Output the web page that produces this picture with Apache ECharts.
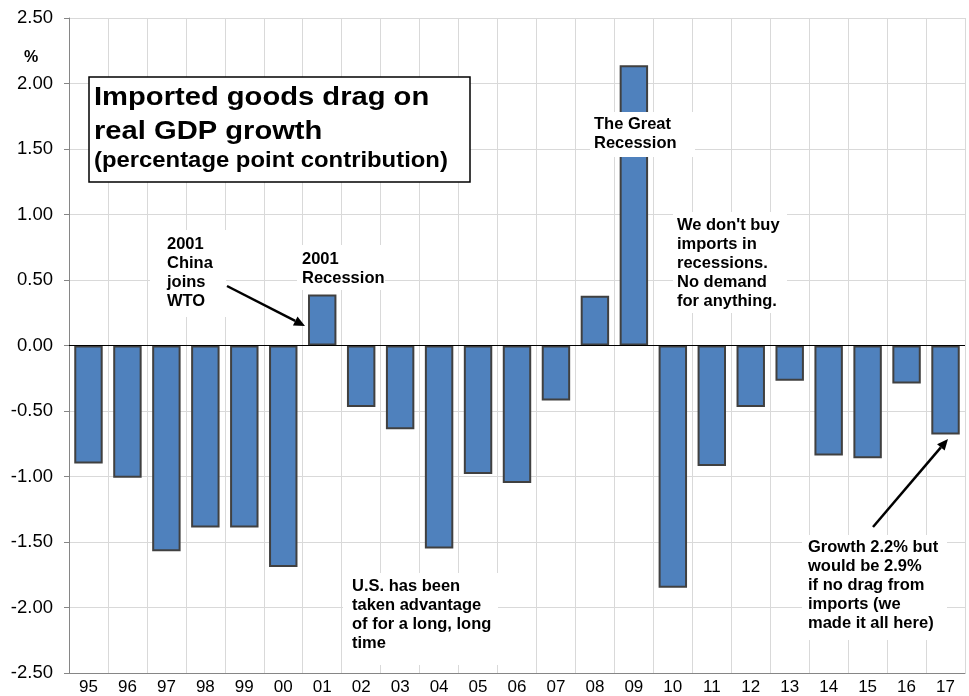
<!DOCTYPE html>
<html>
<head>
<meta charset="utf-8">
<script src="https://cdn.jsdelivr.net/npm/echarts@6/dist/echarts.min.js"></script>
<style>
  html, body { margin: 0; padding: 0; background: #fff; }
  #chart { width: 969px; height: 696px; }
</style>
</head>
<body>
<div id="chart"></div>
<script>
const years = ['95', '96', '97', '98', '99', '00', '01', '02', '03', '04', '05', '06',
  '07', '08', '09', '10', '11', '12', '13', '14', '15', '16', '17'];
const contribution = [-0.90, -1.01, -1.57, -1.39, -1.39, -1.69, 0.39, -0.47, -0.64, -1.55, -0.98, -1.05,
  -0.42, 0.38, 2.14, -1.85, -0.92, -0.47, -0.27, -0.84, -0.86, -0.29, -0.68];
const yMin = -2.5;
const yMax = 2.5;
const yStep = 0.5;

const titleLines = ['Imported goods drag on', 'real GDP growth', '(percentage point contribution)'];

// notes: text, text left/top, white box behind it
const notes = [
  { text: '2001\nChina\njoins\nWTO', x: 167, y: 235, box: [150, 230, 76, 87] },
  { text: '2001\nRecession', x: 302, y: 250, box: [297, 245, 88, 45] },
  { text: 'The Great\nRecession', x: 594, y: 115, box: [590, 112, 105, 45] },
  { text: "We don't buy\nimports in\nrecessions.\nNo demand\nfor anything.", x: 677, y: 216, box: [673, 212, 114, 101] },
  { text: 'U.S. has been\ntaken advantage\nof for a long, long\ntime', x: 352, y: 577, box: [343, 573, 155, 92] },
  { text: 'Growth 2.2% but\nwould be 2.9%\nif no drag from\nimports (we\nmade it all here)', x: 808, y: 538, box: [802, 535, 145, 105] }
];

const arrows = [
  [227, 286, 305, 326],
  [873, 527, 948, 439]
];

const font = 'Arial, "Liberation Sans", sans-serif';

function arrow(x1, y1, x2, y2) {
  const dx = x2 - x1, dy = y2 - y1;
  const len = Math.sqrt(dx * dx + dy * dy);
  const ux = dx / len, uy = dy / len;
  const hl = 11, hw = 5;
  const bx = x2 - ux * hl, by = y2 - uy * hl;
  return [
    { type: 'line', z: 100, shape: { x1: x1, y1: y1, x2: bx, y2: by }, style: { stroke: '#000', lineWidth: 2.5 } },
    { type: 'polygon', z: 100, shape: { points: [[x2, y2], [bx - uy * hw, by + ux * hw], [bx + uy * hw, by - ux * hw]] }, style: { fill: '#000' } }
  ];
}

const graphics = [];

// title box
graphics.push({ type: 'rect', z: 100, shape: { x: 89, y: 77, width: 381, height: 105 }, style: { fill: '#fff', stroke: '#000', lineWidth: 1.5 } });
const titleY = [98, 132, 161];
const titleSize = [26.5, 26.5, 21.7];
titleLines.forEach(function (t, i) {
  graphics.push({
    type: 'text', z: 101, x: 94, y: titleY[i], scaleX: 1.1,
    style: { text: t, fontSize: titleSize[i], fontWeight: 'bold', fontFamily: font, fill: '#000', verticalAlign: 'middle', textVerticalAlign: 'middle' }
  });
});

graphics.push({
  type: 'text', z: 101, x: 31, y: 58,
  style: { text: '%', fontSize: 16, fontWeight: 'bold', fontFamily: font, fill: '#000', align: 'center', textAlign: 'center', verticalAlign: 'middle', textVerticalAlign: 'middle' }
});

notes.forEach(function (n) {
  graphics.push({ type: 'rect', z: 100, shape: { x: n.box[0], y: n.box[1], width: n.box[2], height: n.box[3] }, style: { fill: '#fff' } });
  graphics.push({
    type: 'text', z: 101, x: n.x, y: n.y,
    style: { text: n.text, fontSize: 16.5, fontWeight: 'bold', fontFamily: font, fill: '#000', lineHeight: 19, verticalAlign: 'top', textVerticalAlign: 'top' }
  });
});

arrows.forEach(function (a) {
  arrow(a[0], a[1], a[2], a[3]).forEach(function (g) { graphics.push(g); });
});

const chart = echarts.init(document.getElementById('chart'));
chart.setOption({
  animation: false,
  backgroundColor: '#fff',
  grid: { left: 69, right: 4, top: 18, bottom: 22, containLabel: false },
  xAxis: {
    type: 'category',
    data: years,
    boundaryGap: true,
    axisLine: { onZero: false, lineStyle: { color: '#868686', width: 1 } },
    axisTick: { show: false },
    axisLabel: { color: '#000', fontSize: 17, fontFamily: font, margin: 6, interval: 0 },
    splitLine: { show: true, interval: 0, lineStyle: { color: '#d9d9d9', width: 1 } }
  },
  yAxis: {
    type: 'value',
    min: yMin,
    max: yMax,
    interval: yStep,
    axisLine: { show: true, lineStyle: { color: '#868686', width: 1 } },
    axisTick: { show: true, length: 5, lineStyle: { color: '#868686' } },
    axisLabel: { color: '#000', fontSize: 18.5, fontFamily: font, margin: 16, formatter: function (v) { return v.toFixed(2); } },
    splitLine: { show: true, lineStyle: { color: '#d9d9d9', width: 1 } }
  },
  series: [{
    type: 'bar',
    data: contribution,
    barCategoryGap: '27%',
    itemStyle: { color: '#4F81BD', borderColor: '#404040', borderWidth: 2 },
    markLine: {
      silent: true,
      symbol: ['none', 'none'],
      label: { show: false },
      lineStyle: { color: '#000', width: 1, type: 'solid' },
      data: [{ yAxis: 0 }]
    }
  }],
  graphic: graphics
});
</script>
</body>
</html>
